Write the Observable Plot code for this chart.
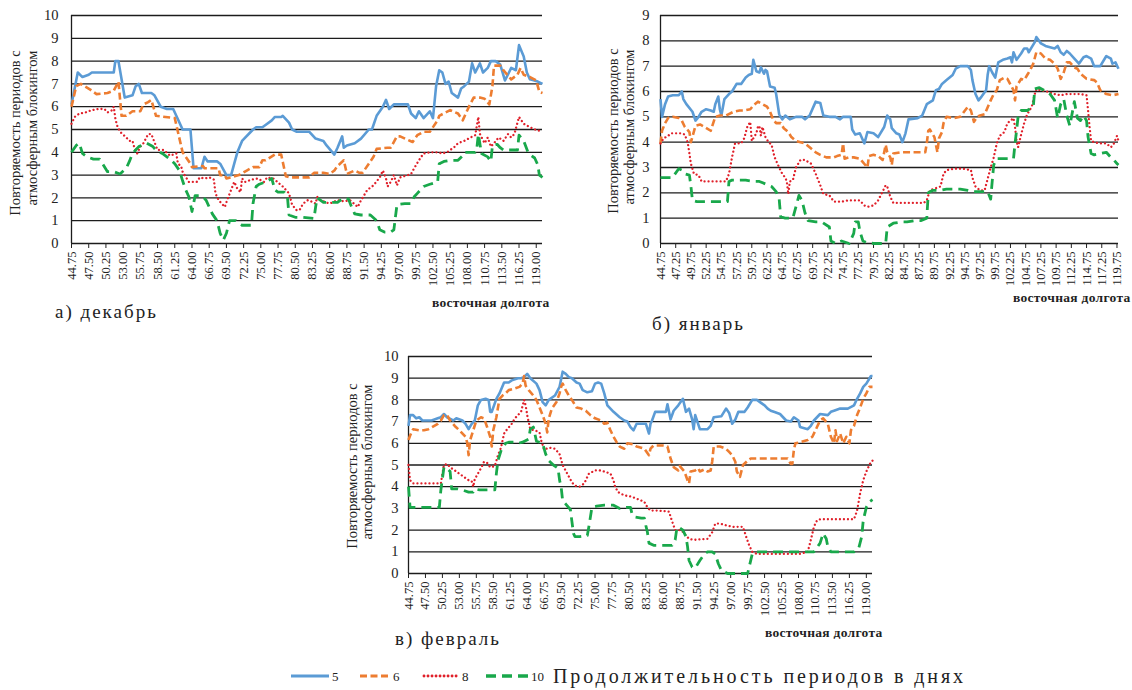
<!DOCTYPE html>
<html><head><meta charset="utf-8">
<script src="https://cdn.jsdelivr.net/npm/d3@7"></script>
<script src="https://cdn.jsdelivr.net/npm/@observablehq/plot@0.6"></script>
<style>
body{margin:0;background:#fff;}
#root{position:relative;width:1132px;height:690px;overflow:hidden;font-family:"Liberation Serif","DejaVu Serif",serif;color:#222;background:#fff;}
.abs{position:absolute;white-space:nowrap;line-height:1;}
.ylab{position:absolute;white-space:nowrap;font-size:14.5px;line-height:1;transform:translate(-50%,-50%) rotate(-90deg);}
.panel{position:absolute;}
.ptitle{font-size:19px;letter-spacing:2px;}
.xname{font-size:13.5px;font-weight:bold;letter-spacing:0.3px;}
</style></head><body><div id="root"></div><script>
// ---- tick labels ----
const ticksA = ["44.75","47.50","50.25","53.00","55.75","58.50","61.25","64.00","66.75","69.50","72.25","75.00","77.75","80.50","83.25","86.00","88.75","91.50","94.25","97.00","99.75","102.50","105.25","108.00","110.75","113.50","116.25","119.00"];
const ticksB = ["44.75","47.25","49.75","52.25","54.75","57.25","59.75","62.25","64.75","67.25","69.75","72.25","74.75","77.25","79.75","82.25","84.75","87.25","89.75","92.25","94.75","97.25","99.75","102.25","104.75","107.25","109.75","112.25","114.75","117.25","119.75"];
const seriesNames = ["5","6","8","10"];

// ---- а) декабрь ----
const dec5 = [[44.75,6.1],[45.75,7.5],[46.5,7.3],[47.5,7.4],[48,7.5],[51.5,7.5],[51.75,8.0],[52.25,8.0],[52.75,7.2],[53.25,6.4],[54.5,6.5],[55,6.9],[55.5,7.0],[56,6.6],[57.5,6.6],[58,6.5],[59,6.0],[60,5.9],[61,5.9],[62.5,5.0],[63.75,5.0],[64.25,3.3],[65.5,3.3],[66,3.8],[66.5,3.6],[68,3.6],[68.5,3.5],[69.5,3.0],[70.25,3.0],[70.75,3.5],[71.25,4.0],[72,4.5],[73.75,5.0],[74.25,5.1],[75.25,5.1],[75.75,5.2],[76.75,5.4],[77.25,5.55],[78.25,5.55],[78.5,5.6],[79.5,5.3],[80,5.0],[80.75,4.9],[82.75,4.9],[83.75,4.6],[85,4.5],[85.5,4.3],[86.75,3.9],[87.25,4.2],[88,4.7],[88.25,4.2],[88.75,4.3],[90,4.4],[91,4.6],[92.25,5.0],[92.75,5.0],[93.5,5.6],[94.5,6.0],[95,6.3],[95.5,5.9],[96.25,6.1],[98.5,6.1],[99,5.7],[99.75,5.5],[100.25,5.8],[101,5.5],[102,5.8],[102.5,5.5],[103,6.9],[103.5,7.6],[104,7.5],[104.5,7.0],[105,7.1],[105.5,6.6],[106.5,6.4],[107,6.8],[107.5,6.9],[108.25,7.1],[108.75,7.9],[109.25,7.5],[110,7.9],[110.5,7.5],[111.25,7.7],[111.75,8.0],[112.5,8.0],[113.25,7.85],[114,7.15],[115,7.7],[115.75,7.6],[116.25,8.7],[117,8.2],[117.5,7.5],[118,7.2],[119.25,7.1],[120,7.0]];
const dec6 = [[44.75,6.0],[45.5,6.9],[46.25,7.0],[47.75,6.75],[48.75,6.55],[50.5,6.6],[51.5,6.7],[52.25,7.1],[52.75,5.6],[53.5,5.6],[54.5,5.8],[55.75,5.8],[56.25,6.1],[57,6.2],[57.5,6.3],[58.25,5.6],[59.75,5.55],[61.25,5.5],[62.5,4.0],[63.75,3.5],[64,3.35],[65.75,3.4],[66,3.3],[68.25,3.3],[68.5,3.0],[69.25,3.0],[69.5,2.85],[71.5,3.0],[72.75,3.2],[73.75,3.35],[74.75,3.35],[75.25,3.65],[75.75,3.65],[77.25,3.9],[78.25,3.9],[79,2.95],[79.75,2.9],[82.75,2.9],[83.5,3.1],[85,3.1],[86,3.05],[86.75,3.2],[87.25,3.4],[88.25,3.65],[88.75,3.05],[90,3.2],[90.75,3.1],[91.25,3.1],[92.25,3.5],[93,3.8],[93.5,4.15],[95.25,4.2],[95.75,4.2],[96.75,4.7],[97.25,4.7],[99.25,4.45],[100,4.75],[101,4.9],[102,4.9],[103.25,5.4],[103.5,5.6],[105.25,5.85],[106.5,5.7],[107.25,5.4],[108.25,6.0],[109,6.4],[110,6.4],[110.75,6.35],[111.5,6.1],[112,6.9],[112.25,7.8],[113.25,7.8],[113.75,7.6],[115,7.2],[116,7.4],[116.5,7.7],[117,7.4],[118,7.3],[119,7.15],[119.5,6.65],[120,6.6]];
const dec8 = [[44.75,5.25],[45.25,5.55],[46,5.7],[47,5.75],[48,5.85],[49,5.9],[50,5.9],[50.5,5.75],[51.25,5.85],[51.5,6.0],[51.75,5.5],[52,5.2],[52.5,4.9],[53.5,4.65],[54,4.5],[54.5,4.5],[54.75,4.25],[55.25,3.95],[55.75,4.25],[56.25,4.4],[57,4.8],[57.5,4.8],[58,4.45],[58.5,4.1],[59.5,4.1],[60.5,3.85],[61.5,3.95],[61.75,3.5],[62.25,3.4],[62.5,3.15],[63.5,2.7],[64.75,2.7],[65.25,2.9],[66,2.85],[66.75,2.9],[67.5,2.8],[67.75,2.2],[68.25,1.9],[68.75,1.75],[69.25,1.6],[69.75,2.0],[70.25,2.35],[70.75,2.7],[71.25,2.4],[71.75,2.25],[72,2.85],[72.5,2.7],[73.5,2.8],[74.5,2.85],[75.5,2.7],[76,2.9],[77,2.85],[78.5,2.5],[79.5,2.2],[80,1.7],[80.75,1.45],[81.25,1.5],[81.75,1.75],[82.5,1.9],[83,1.85],[83.75,1.75],[84,2.05],[84.5,1.9],[85,1.85],[86,1.75],[87.25,1.9],[88.25,1.85],[89.25,1.9],[90.5,1.6],[91,1.9],[91.25,2.0],[92,2.35],[93,2.55],[94,2.9],[94.5,3.2],[95,2.85],[95.25,2.5],[95.75,2.7],[96.25,3.0],[96.75,2.55],[97.25,2.9],[98.5,3.0],[99,3.05],[99.5,3.3],[100.25,3.65],[101,3.95],[102,4.0],[103.25,4.0],[104,3.95],[104.75,4.0],[106,4.25],[106.5,4.4],[107.5,4.5],[108.5,4.65],[109.25,4.75],[109.75,5.55],[110,4.8],[110.75,4.4],[111.25,4.65],[111.75,4.25],[112.25,4.4],[113,4.65],[113.75,4.5],[114.5,4.8],[115,4.65],[115.5,4.8],[116.25,5.55],[117,5.25],[118,5.1],[119.25,4.95],[120,4.95]];
const dec10 = [[44.75,4.0],[45.5,4.3],[46,4.4],[46.5,3.95],[47.25,3.8],[48.25,3.7],[49.25,3.7],[50.5,3.15],[51.5,3.15],[52.5,3.05],[53.5,3.3],[54,3.6],[54.5,3.95],[55,4.1],[55.5,4.25],[56.75,4.4],[57.75,4.25],[58.25,4.1],[59.25,3.95],[60.5,3.7],[61.25,3.5],[62,3.2],[62.5,2.75],[63,2.35],[63.5,2.05],[64,1.4],[64.5,2.1],[65.25,2.1],[65.75,2.05],[66.25,1.9],[66.75,1.6],[67.25,1.3],[68,1.0],[68.5,0.45],[69,0.15],[69.5,0.45],[70,1.0],[71,1.0],[72,0.8],[73.5,0.8],[73.75,1.75],[74.25,2.5],[74.75,2.6],[75.75,2.7],[76.75,2.85],[77.25,2.35],[77.75,2.25],[78.75,2.25],[79.25,2.05],[79.5,1.25],[80.5,1.15],[81.75,1.15],[83.5,1.1],[83.75,1.6],[84,2.0],[85,1.8],[87.25,1.8],[88.25,2.0],[89,1.95],[89.5,1.6],[90,1.3],[91,1.25],[92.5,1.25],[93.5,1.0],[94,0.6],[94.75,0.5],[95.75,0.5],[96.25,0.6],[96.5,1.15],[96.75,1.7],[98,1.75],[99,1.75],[99.5,2.05],[100,2.2],[101,2.5],[102,2.6],[103.25,2.7],[103.5,3.5],[104.25,3.6],[105.25,3.65],[106.5,3.65],[107.25,3.85],[107.5,4.0],[109.25,4.0],[109.5,4.15],[109.75,4.8],[110.25,3.95],[111.25,3.8],[111.75,3.6],[112,4.3],[112.75,4.35],[113.25,4.2],[113.75,4.1],[116,4.1],[116.25,4.75],[117,4.5],[117.75,3.95],[118.75,3.75],[119.25,3.45],[119.5,3.0],[120,2.9]];

// ---- б) январь ----
const jan5 = [[44.75,5.7],[45,5.0],[45.5,5.5],[46,5.8],[46.75,5.85],[47.75,5.85],[48.25,6.0],[48.5,5.7],[49,5.5],[50,5.2],[50.5,4.85],[51,5.0],[51.5,5.2],[52.25,5.3],[53,5.25],[53.5,5.2],[53.75,5.5],[54.25,5.8],[54.5,5.3],[54.75,5.05],[55.25,5.7],[56,5.9],[56.5,6.0],[57.25,6.3],[58,6.3],[58.75,6.55],[59.25,6.65],[59.75,6.7],[60,7.25],[60.5,6.8],[61,6.75],[61.25,6.95],[61.75,6.7],[62,6.85],[62.25,6.8],[62.75,6.2],[63.5,6.15],[63.75,5.9],[64.25,5.1],[64.75,4.9],[65.25,5.05],[66,4.9],[67,5.0],[68,5.0],[68.5,4.9],[69.25,5.05],[70.25,5.6],[71,5.55],[71.5,5.05],[72.5,5.0],[73.5,5.0],[74.25,4.9],[74.75,5.0],[76,5.0],[76.25,4.5],[76.75,4.3],[77.5,4.35],[78.25,3.95],[78.75,4.4],[79.75,4.35],[80.5,4.2],[81.5,4.6],[82,5.05],[82.5,4.9],[82.75,4.55],[83.5,4.35],[84,4.3],[84.5,4.0],[85,4.35],[85.5,4.9],[87,4.95],[87.75,5.05],[88.5,5.5],[89.5,5.65],[90,6.05],[90.5,6.1],[91,6.3],[91.75,6.45],[92.75,6.65],[93.25,6.9],[94,7.0],[95.25,7.0],[95.75,6.85],[96,6.45],[96.5,5.9],[97,5.65],[97.5,5.8],[98.25,6.05],[98.5,6.65],[98.75,7.0],[99.25,6.75],[99.75,6.55],[100.25,7.15],[101,7.25],[101.75,7.3],[102.25,7.35],[102.5,7.15],[102.75,7.55],[103.25,7.25],[104,7.5],[104.5,7.7],[105,7.7],[105.25,7.55],[105.75,7.75],[106.25,7.95],[106.5,8.15],[107.25,7.9],[108,7.8],[108.75,7.75],[109.5,7.7],[110,7.8],[110.5,7.55],[111,7.45],[111.5,7.6],[112,7.5],[112.75,7.3],[113.5,7.1],[114.25,7.35],[114.75,7.4],[115.5,7.3],[116,7.0],[117,7.0],[118,7.4],[118.75,7.3],[119,7.1],[119.5,7.15],[120,6.9]];
const jan6 = [[44.75,3.95],[45,4.45],[45.5,4.75],[46,4.95],[46.75,5.0],[47.75,4.95],[48.25,4.85],[48.75,4.6],[49.5,4.4],[49.75,4.0],[50.5,4.65],[51.25,4.7],[52,4.6],[53,4.45],[53.75,5.0],[54.5,5.05],[55.5,5.05],[56.75,5.2],[57.75,5.25],[58.5,5.25],[59.5,5.3],[60,5.45],[60.75,5.6],[61.5,5.5],[62.25,5.4],[62.75,5.2],[63.25,4.9],[63.75,4.75],[64.5,4.75],[65,4.55],[65.75,4.4],[66.25,4.2],[67,4.05],[67.75,4.0],[68.5,3.95],[69.5,3.75],[70.25,3.6],[71,3.5],[72,3.4],[73.25,3.4],[73.75,3.45],[74.5,3.5],[74.75,3.95],[75,3.35],[75.75,3.4],[76.5,3.4],[77.5,3.35],[78.75,3.0],[79,3.45],[79.75,3.5],[80.5,3.45],[81.25,3.3],[81.75,3.9],[82,3.6],[82.5,3.4],[82.75,3.1],[83,3.55],[84.25,3.6],[88.25,3.6],[88.5,3.95],[88.75,4.45],[89,4.5],[89.75,4.2],[90.25,3.6],[90.5,4.15],[91,4.4],[91.25,4.75],[91.75,5.0],[93,4.95],[94,5.0],[95.25,5.4],[95.75,5.25],[96.25,4.8],[96.75,5.0],[97.25,5.05],[98,5.1],[99,5.65],[99.5,5.9],[100,6.05],[100.5,6.45],[101.25,6.55],[101.75,6.5],[102.75,6.05],[103,5.65],[103.25,6.2],[104,6.5],[104.5,6.45],[105,6.65],[105.5,6.85],[106,7.1],[106.5,7.55],[107.25,7.5],[108,7.3],[108.75,7.25],[109.5,7.1],[110,6.9],[110.5,6.5],[111,6.75],[111.5,7.15],[112,7.15],[112.75,6.95],[113.25,6.9],[113.75,6.7],[114.75,6.5],[116,6.45],[116.5,6.35],[117,6.05],[118,5.9],[119,5.85],[120,5.9]];
const jan8 = [[44.75,3.95],[45.25,4.15],[46,4.25],[46.5,4.35],[48.25,4.35],[48.75,4.3],[49.25,3.95],[49.5,3.55],[49.75,3.15],[50.25,2.75],[51,2.7],[51.5,2.45],[55.5,2.45],[56,2.75],[56.5,3.4],[57,3.95],[58,3.95],[58.5,4.15],[59,4.6],[59.5,4.8],[59.75,4.05],[60.5,4.35],[60.75,4.6],[61,4.65],[61.25,4.25],[61.5,4.6],[62,4.2],[62.5,4.0],[63,3.9],[63.5,3.4],[64.25,3.0],[64.75,2.75],[65.25,2.6],[65.5,2.45],[65.75,1.95],[66,2.45],[66.5,2.5],[67,3.0],[67.75,3.3],[68.5,3.3],[69.5,3.15],[70.25,2.75],[71,2.3],[71.5,1.95],[72.5,1.9],[73.25,1.65],[74.5,1.65],[75.5,1.7],[77.5,1.7],[78.25,1.5],[78.75,1.45],[79.75,1.5],[80.5,1.7],[81.25,2.05],[81.75,2.3],[82,2.25],[82.5,1.85],[83,1.6],[88,1.6],[88.5,1.7],[89,2.1],[90.75,2.25],[91.25,2.75],[91.75,2.9],[93,2.95],[94.5,2.95],[95.75,2.9],[96,2.6],[96.5,2.25],[97.25,2.1],[98,2.1],[99,3.0],[99.5,3.4],[100,3.95],[100.5,4.25],[101.25,4.4],[101.75,4.75],[102.75,4.95],[103,4.6],[103.25,4.05],[103.5,3.8],[104,4.3],[104.5,4.75],[105,5.1],[105.75,5.4],[106.25,5.9],[106.5,6.1],[107.25,6.05],[108.25,6.0],[109.5,5.9],[110.5,5.85],[111.5,5.9],[113.75,5.9],[114.75,5.85],[115,5.25],[115.25,4.6],[115.5,4.05],[116,4.0],[117,3.95],[118,3.95],[118.75,3.8],[119.25,3.95],[119.75,4.25],[120,4.05]];
const jan10 = [[44.75,2.6],[46.75,2.6],[47,2.7],[47.75,2.95],[48.25,2.9],[48.75,2.75],[49.5,2.7],[49.75,2.25],[50,1.7],[50.75,1.65],[55.75,1.65],[56,2.45],[56.5,2.5],[58.75,2.5],[60,2.45],[61,2.45],[62,2.35],[63,2.25],[63.75,2.05],[64.25,1.75],[64.5,1.05],[65.25,1.0],[66.5,1.0],[67,1.45],[67.5,1.9],[68,1.7],[68.5,1.2],[69,0.9],[70.25,0.85],[71.25,0.85],[72.5,0.65],[72.75,0.1],[73.5,0.0],[74.5,0.1],[75.75,0.0],[76.5,0.4],[76.75,0.85],[77.25,0.85],[77.5,0.5],[78,0.1],[78.5,0.05],[79.75,0.0],[81.75,0.0],[82,0.65],[83,0.8],[84.25,0.85],[85.25,0.85],[86.5,0.9],[87.5,0.9],[88.5,1.0],[88.75,2.0],[89.5,2.1],[90.75,2.1],[91.75,2.15],[94,2.15],[95.25,2.1],[96.25,2.05],[98.5,2.05],[99,1.75],[99.25,2.45],[99.5,3.1],[100,3.35],[102.75,3.35],[103,3.95],[103.25,4.45],[103.5,5.0],[104,5.25],[105,5.25],[106,5.4],[106.25,6.1],[107,6.15],[107.75,6.05],[108.75,5.9],[109.5,5.65],[110,4.95],[110.5,5.5],[111,5.7],[111.5,5.05],[112,4.65],[112.75,5.6],[113.25,4.95],[113.75,4.85],[114.25,5.05],[114.75,4.85],[115,4.2],[115.5,3.55],[116,3.5],[117,3.55],[118,3.6],[118.75,3.4],[119.25,3.3],[119.75,3.15],[120,3.1]];

// ---- в) февраль ----
const feb5 = [[44.75,6.8],[45,7.3],[45.5,7.3],[46,7.15],[46.5,7.2],[47,7.05],[48.5,7.05],[49.5,7.15],[50,7.2],[50.5,7.35],[51,7.2],[52,7.05],[52.5,7.15],[53.5,7.05],[54,6.9],[54.5,6.65],[55,6.9],[55.5,7.05],[56,7.75],[56.5,8.0],[57.25,8.05],[57.75,8.0],[58,7.45],[58.25,7.45],[59,8.05],[59.5,8.3],[60.25,8.8],[61,8.8],[61.5,8.9],[62.5,9.0],[63,9.0],[63.5,9.05],[64,9.2],[64.5,9.0],[65.5,8.75],[66,8.45],[66.5,7.9],[67,7.75],[67.5,8.0],[68.5,8.2],[69.25,8.6],[69.75,9.3],[70.25,9.2],[70.75,9.05],[71.25,9.0],[72,8.8],[72.5,8.75],[73,8.45],[73.75,8.35],[74.5,8.4],[75,8.75],[75.5,8.8],[76,8.75],[76.5,8.3],[77,7.75],[78,7.45],[79,7.2],[79.75,7.05],[80.25,7.0],[80.75,6.75],[81.25,6.6],[81.75,6.9],[83.25,6.9],[83.75,6.45],[84,6.9],[84.25,7.05],[84.75,7.45],[86.5,7.45],[86.75,7.8],[87.25,7.1],[87.75,7.5],[88.5,7.75],[89.25,8.05],[89.75,7.45],[90.25,7.6],[90.75,7.1],[91,6.65],[91.25,7.3],[92,6.65],[93.25,6.65],[93.75,6.8],[94.25,7.2],[95.5,7.25],[96.25,7.6],[96.75,7.4],[97.25,6.9],[97.75,7.1],[98.25,7.45],[99.25,7.45],[99.75,7.65],[100.5,8.0],[101.25,8.0],[101.75,7.9],[102.5,7.75],[103,7.6],[103.5,7.5],[104,7.45],[105,7.35],[106,7.05],[106.75,7.0],[107.25,7.2],[108,7.05],[108.25,6.75],[109.5,6.65],[110,6.8],[110.5,7.05],[111.5,7.35],[112.75,7.3],[113.25,7.45],[113.75,7.5],[114.75,7.6],[116,7.6],[117,7.75],[117.5,8.05],[118,8.3],[118.5,8.6],[119,8.75],[119.75,9.1],[120,9.1]];
const feb6 = [[44.75,6.15],[45,6.35],[45.5,6.65],[46.5,6.6],[47.25,6.6],[48,6.65],[49.5,6.9],[50,7.05],[50.5,7.3],[51,7.3],[51.5,7.05],[52.25,6.8],[53,6.6],[54,6.3],[54.25,6.05],[54.5,5.45],[54.75,6.15],[55.25,6.6],[55.75,7.05],[56.5,7.2],[57,7.15],[57.5,6.75],[58,6.3],[58.25,5.85],[58.5,6.6],[59,7.2],[59.5,8.05],[60,8.2],[60.5,8.3],[61,8.45],[61.75,8.5],[62.75,8.6],[63.25,8.75],[63.5,9.1],[63.75,8.65],[64.25,8.45],[65,8.2],[65.5,8.0],[66,7.65],[66.5,7.3],[67,6.9],[67.25,6.5],[67.5,7.15],[68,7.6],[68.75,7.9],[69.25,8.3],[69.5,8.6],[69.75,8.75],[70.25,8.45],[70.75,8.2],[71.25,8.0],[72,7.65],[72.75,7.6],[73.5,7.5],[74.25,7.3],[75,7.15],[76,7.05],[76.5,6.9],[77,6.95],[77.5,6.6],[78,6.3],[78.5,6.05],[79,5.85],[79.75,5.75],[80.25,6.0],[81.25,5.95],[81.75,5.85],[83,5.75],[83.75,5.45],[84,5.75],[84.5,5.9],[86,5.9],[86.75,5.85],[87.25,5.3],[87.75,4.9],[88.5,4.75],[88.75,4.95],[89.5,4.7],[90,4.3],[90.25,4.15],[90.5,4.7],[91.25,4.75],[91.75,4.85],[92,4.7],[92.75,4.8],[93.25,4.7],[93.75,4.75],[94,5.15],[94.25,5.85],[95.25,5.85],[96.25,5.75],[96.75,5.6],[97.25,5.45],[97.75,5.15],[98,4.7],[98.5,4.45],[99,5.0],[99.75,5.2],[100.25,5.3],[106.25,5.3],[106.75,5.05],[107,5.05],[107.25,5.7],[107.5,6.0],[108.25,6.05],[109.5,6.15],[110.25,6.3],[111,6.75],[111.5,7.05],[112,7.15],[112.75,6.9],[113.25,6.3],[113.75,6.0],[114,6.6],[114.25,6.1],[114.75,6.45],[115.25,6.0],[115.75,6.3],[116.25,6.0],[116.5,6.6],[117,6.8],[117.5,7.3],[118,7.65],[118.5,8.05],[119,8.3],[119.5,8.6],[120,8.6]];
const feb8 = [[44.75,5.0],[45,4.3],[45.5,4.15],[50,4.15],[50.25,4.6],[50.5,5.0],[51,5.05],[51.5,4.9],[52.25,4.75],[53,4.6],[53.75,4.45],[54.5,4.3],[55,4.25],[55.25,4.0],[55.5,4.35],[56.5,4.85],[57,5.15],[57.5,5.1],[58,4.9],[58.75,4.95],[59.25,5.45],[59.75,5.8],[60.25,6.45],[60.75,6.65],[61.5,6.9],[62,7.15],[62.5,7.3],[63,7.45],[63.5,8.0],[63.75,7.75],[64,7.3],[64.5,6.65],[65.25,6.6],[66,6.5],[66.25,6.15],[66.75,5.7],[67.5,5.8],[68.5,5.75],[69.25,5.5],[69.75,5.0],[70.5,4.6],[71.25,4.2],[71.75,4.05],[72.5,4.0],[73.25,4.15],[74,4.6],[75,4.75],[75.75,4.75],[76.5,4.7],[77.5,4.6],[78,4.3],[78.25,4.0],[78.75,3.75],[79.75,3.6],[80.75,3.55],[81.75,3.45],[83,3.3],[83.5,3.05],[84,2.9],[85.25,2.9],[87,2.85],[87.5,2.4],[88,2.0],[89,2.0],[89.75,1.75],[90.25,1.6],[91,1.55],[93.25,1.6],[94,1.9],[94.5,2.3],[95.25,2.3],[96.5,2.2],[97.5,2.15],[99,2.15],[99.5,1.7],[100,1.3],[100.5,1.0],[101.25,0.9],[108.25,0.9],[109.5,1.0],[110,1.55],[110.5,2.15],[111,2.45],[111.5,2.5],[117,2.5],[117.5,2.9],[118,3.7],[118.5,4.3],[119,4.7],[119.75,5.15],[120,5.2]];
const feb10 = [[44.75,4.0],[45,3.05],[49.75,3.05],[50,3.85],[50.5,4.9],[51,4.85],[51.5,4.7],[51.75,3.9],[52.75,3.9],[53.5,3.85],[54.5,3.75],[55.25,3.75],[55.5,3.9],[56.25,3.85],[58.75,3.85],[59,4.6],[59.25,5.2],[59.75,5.65],[60.5,6.0],[61,6.05],[62,6.05],[62.5,6.0],[63.25,6.05],[64.25,6.2],[64.5,6.65],[65,6.75],[65.5,6.1],[66,6.05],[66.5,6.0],[67,5.5],[67.5,5.2],[68.25,5.0],[69,4.85],[69.25,4.3],[69.5,4.0],[69.75,3.35],[70.25,3.2],[71,2.95],[71.25,2.4],[71.5,1.85],[71.75,1.7],[72.5,1.7],[73.75,1.75],[74,2.15],[74.5,3.05],[75.25,3.1],[76.5,3.15],[78,3.15],[79,3.0],[80.25,3.05],[80.75,3.05],[81,2.75],[81.5,2.6],[82.5,2.55],[83,2.55],[83.25,2.2],[83.5,1.9],[83.75,1.4],[84.5,1.3],[87.5,1.3],[88,1.55],[88.25,2.05],[88.5,2.15],[89.25,2.0],[89.75,1.7],[90,1.25],[90.25,0.6],[90.75,0.3],[91.25,0.25],[92,0.6],[92.75,0.9],[93.25,1.0],[94,1.0],[94.5,0.9],[95,0.45],[95.5,0.15],[96.5,0.0],[99.75,0.0],[100,0.3],[100.5,0.9],[101.25,1.0],[110.5,1.0],[111.5,1.4],[112,1.85],[112.5,1.6],[112.75,1.25],[113.25,1.0],[117,1.0],[117.75,1.15],[118.25,1.7],[118.5,2.45],[119,3.05],[119.5,3.3],[120,3.4]];

// ---- styles ----
const styles = {
  "5":  {stroke:"#5B9BD5", strokeWidth:2.6, strokeDasharray:null, strokeLinecap:"butt"},
  "6":  {stroke:"#ED7D31", strokeWidth:2.6, strokeDasharray:"7,3.5", strokeLinecap:"butt"},
  "8":  {stroke:"#E0202A", strokeWidth:2.3, strokeDasharray:"0.01,4", strokeLinecap:"round"},
  "10": {stroke:"#19A84B", strokeWidth:2.8, strokeDasharray:"10,6", strokeLinecap:"butt"}
};
const FONT = '"Liberation Serif","DejaVu Serif",serif';
const root = document.getElementById("root");

function panel(cfg){
  const yt = d3.range(0, cfg.yMax + 1);
  const xt = cfg.ticks.map(Number);
  const lines = cfg.series.map((s, i) => Plot.line(s, {
    x: d => d[0], y: d => d[1], strokeLinejoin: "round", ...styles[seriesNames[i]]
  }));
  const svg = Plot.plot({
    width: cfg.width, height: cfg.height,
    marginLeft: cfg.ml, marginRight: cfg.mr, marginTop: cfg.mt, marginBottom: cfg.mb,
    style: {fontFamily: FONT, color: "#222", background: "transparent", overflow: "visible"},
    x: {domain: [44.75, 120]},
    y: {domain: [0, cfg.yMax]},
    marks: [
      Plot.gridY(yt, {stroke: "#1c1c1c", strokeOpacity: 1, strokeWidth: 1.3}),
      Plot.ruleX([44.75], {stroke: "#1c1c1c", strokeWidth: 1.3}),
      Plot.axisY(yt, {tickSize: 0, tickPadding: cfg.yPad, fontSize: 14.5, label: null}),
      Plot.axisX(xt, {tickSize: 5, tickRotate: -90, tickPadding: 3, fontSize: 12.5, label: null, tickFormat: d => d.toFixed(2)}),
      ...lines
    ]
  });
  svg.classList.add("panel");
  svg.style.left = cfg.left + "px";
  svg.style.top = cfg.top + "px";
  svg.style.fontFamily = FONT;
  root.appendChild(svg);
}

panel({series:[dec5,dec6,dec8,dec10], yMax:10, ticks:ticksA, left:0, top:0, width:560, height:320, ml:71, mr:18, mt:15, mb:77, yPad:13});
panel({series:[jan5,jan6,jan8,jan10], yMax:9, ticks:ticksB, left:600, top:0, width:532, height:320, ml:60, mr:14, mt:15, mb:77, yPad:11});
panel({series:[feb5,feb6,feb8,feb10], yMax:10, ticks:ticksA, left:340, top:340, width:560, height:320, ml:68, mr:28, mt:16, mb:87, yPad:10});

function addText(txt, cls, left, top){
  const d = document.createElement("div");
  d.className = "abs " + cls; d.textContent = txt;
  d.style.left = left + "px"; d.style.top = top + "px";
  root.appendChild(d); return d;
}
function addYLabel(txt, cx, cy){
  const d = document.createElement("div");
  d.className = "ylab"; d.textContent = txt;
  d.style.left = cx + "px"; d.style.top = cy + "px";
  root.appendChild(d);
}
const yl1 = "Повторяемость периодов с", yl2 = "атмосферным блокингом";
addYLabel(yl1, 15, 133); addYLabel(yl2, 32, 128);
addYLabel(yl1, 613, 131); addYLabel(yl2, 629, 127);
addYLabel(yl1, 352, 466); addYLabel(yl2, 367, 462);

addText("а) декабрь", "ptitle", 55, 302);
addText("б) январь", "ptitle", 652, 314);
addText("в) февраль", "ptitle", 395, 629);
addText("восточная долгота", "xname", 432, 296);
addText("восточная долгота", "xname", 1013, 291);
addText("восточная долгота", "xname", 765, 626);

// legend
const leg = d3.select(root).append("svg").attr("width", 1132).attr("height", 40)
  .style("position","absolute").style("left","0px").style("top","656px");
const legItems = [
  {name:"5", x0:291, x1:329},
  {name:"6", x0:360, x1:390},
  {name:"8", x0:424, x1:459},
  {name:"10", x0:486, x1:528}
];
legItems.forEach(it => {
  const s = styles[it.name];
  leg.append("line").attr("x1", it.x0).attr("x2", it.x1).attr("y1", 20).attr("y2", 20)
    .attr("stroke", s.stroke).attr("stroke-width", s.strokeWidth + 0.6)
    .attr("stroke-dasharray", s.strokeDasharray).attr("stroke-linecap", s.strokeLinecap);
  leg.append("text").attr("x", it.x1 + 3).attr("y", 25).attr("font-family", FONT)
    .attr("font-size", 13).attr("fill", "#222").text(it.name);
});
leg.append("text").attr("x", 553).attr("y", 27).attr("font-family", FONT)
  .attr("font-size", 20).attr("textLength", 410).attr("lengthAdjust", "spacing")
  .attr("fill", "#222").text("Продолжительность периодов в днях");
</script></body></html>
